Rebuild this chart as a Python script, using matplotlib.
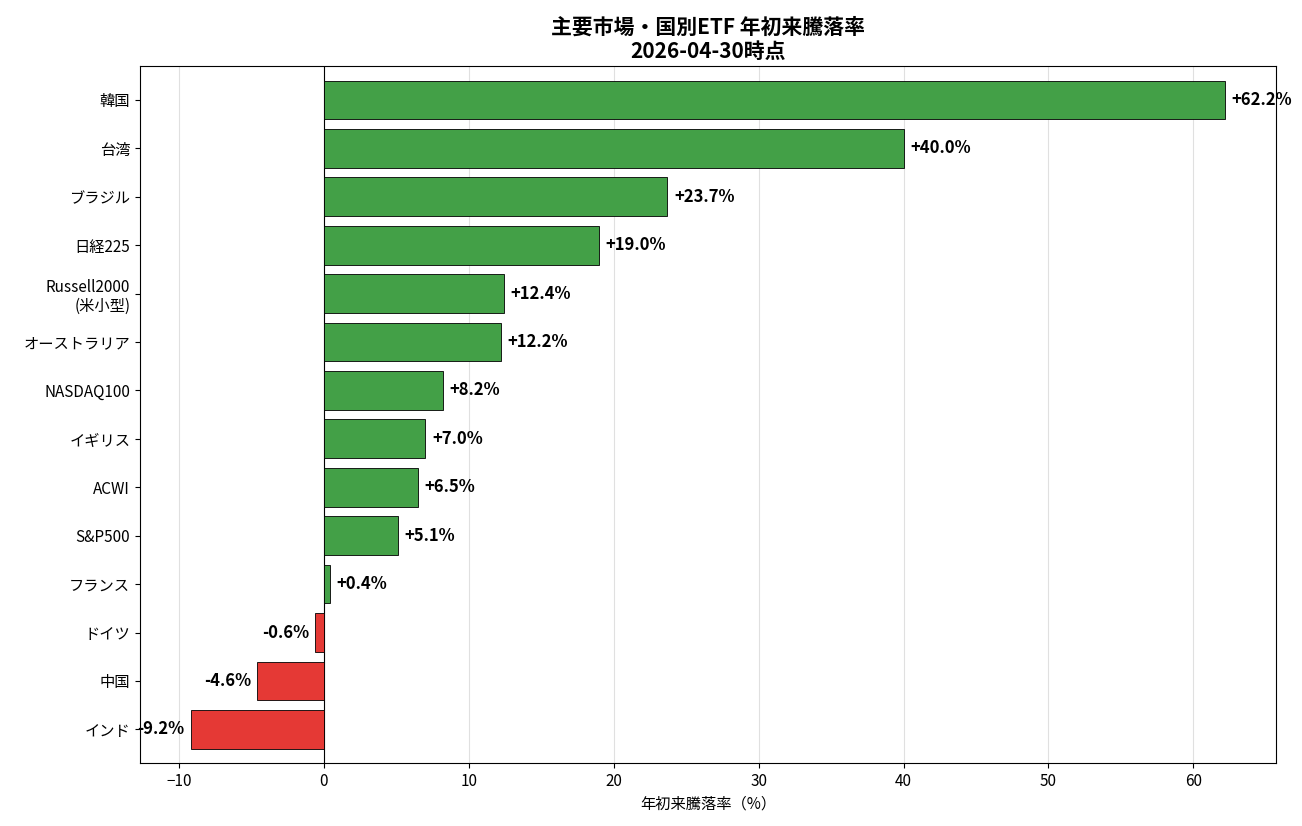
import matplotlib
matplotlib.use("Agg")
import matplotlib.pyplot as plt

plt.rcParams['font.family'] = ['Noto Sans CJK JP', 'DejaVu Sans']

names = ['韓国', '台湾', 'ブラジル', '日経225', 'Russell2000\n(米小型)', 'オーストラリア',
         'NASDAQ100', 'イギリス', 'ACWI', 'S&P500', 'フランス', 'ドイツ', '中国', 'インド']
returns = [62.2, 40.0, 23.7, 19.0, 12.4, 12.2, 8.2, 7.0, 6.5, 5.1, 0.4, -0.6, -4.6, -9.2]

fig, ax = plt.subplots(figsize=(13.02, 8.26), dpi=100)
fig.subplots_adjust(left=0.1075, right=0.98, top=0.92, bottom=0.076)

ypos = list(range(len(names)))[::-1]
colors = ['#43a047' if v >= 0 else '#e53935' for v in returns]
ax.barh(ypos, returns, color=colors, edgecolor='black', linewidth=0.6, height=0.8, zorder=3)

for y, v in zip(ypos, returns):
    if v >= 0:
        ax.text(v + 0.45, y, f'+{v:.1f}%', va='center', ha='left', fontsize=12, fontweight='bold', zorder=4)
    else:
        ax.text(v - 0.45, y, f'{v:.1f}%', va='center', ha='right', fontsize=12, fontweight='bold', zorder=4)

ax.axvline(0, color='black', linewidth=0.8, zorder=2)
ax.set_yticks(ypos)
ax.set_yticklabels(names, fontsize=11)
ax.set_xlim(-12.7, 65.7)
ax.set_ylim(-0.7, len(names) - 0.3)
ax.tick_params(axis='x', labelsize=11)
ax.grid(axis='x', color='#e0e0e0', linewidth=0.8, zorder=0)
ax.set_xlabel('年初来騰落率（%）', fontsize=11)
ax.set_title('主要市場・国別ETF 年初来騰落率\n2026-04-30時点', fontsize=15, fontweight='bold', linespacing=1.2)

fig.savefig('out.png', dpi=100)
